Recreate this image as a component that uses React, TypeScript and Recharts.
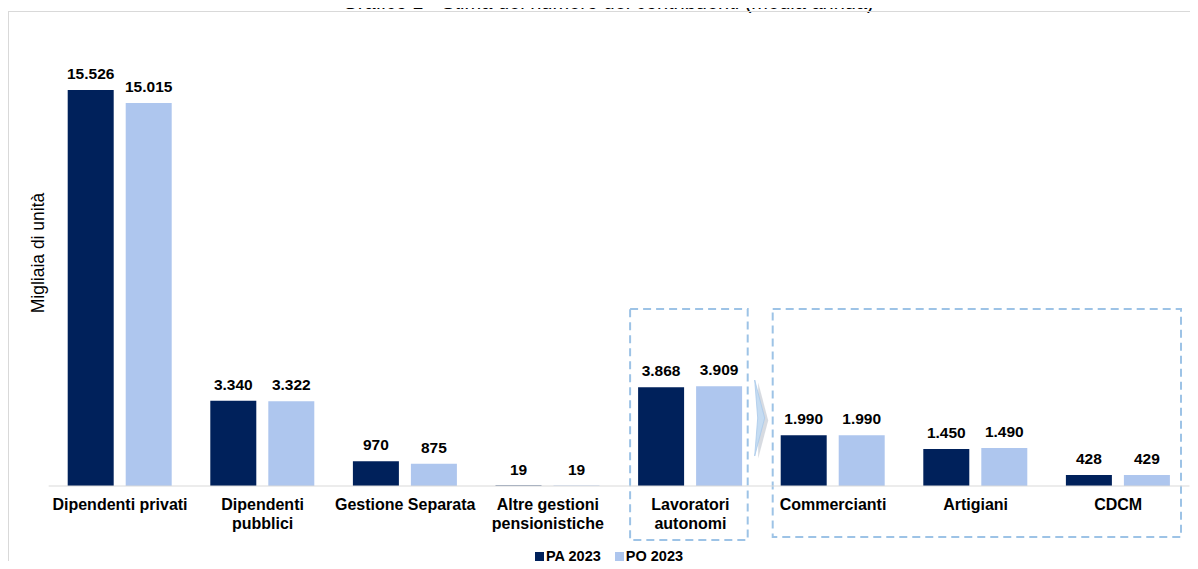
import { BarChart, Bar, XAxis, YAxis, LabelList, ReferenceArea } from "recharts";

const categories = [
  "Dipendenti privati",
  "Dipendenti pubblici",
  "Gestione Separata",
  "Altre gestioni pensionistiche",
  "Lavoratori autonomi",
  "Commercianti",
  "Artigiani",
  "CDCM",
];
const tickLines: Record<string, string[]> = {
  "Dipendenti privati": ["Dipendenti privati"],
  "Dipendenti pubblici": ["Dipendenti", "pubblici"],
  "Gestione Separata": ["Gestione Separata"],
  "Altre gestioni pensionistiche": ["Altre gestioni", "pensionistiche"],
  "Lavoratori autonomi": ["Lavoratori", "autonomi"],
  Commercianti: ["Commercianti"],
  Artigiani: ["Artigiani"],
  CDCM: ["CDCM"],
};
const pa2023 = [15526, 3340, 970, 19, 3868, 1990, 1450, 428];
const po2023 = [15015, 3322, 875, 19, 3909, 1990, 1490, 429];

const data = categories.map((name, i) => ({ name, pa: pa2023[i], po: po2023[i] }));

const FONT = '"Liberation Sans", Arial, sans-serif';
const NAVY = "#00215b";
const LIGHT = "#aec6ee";
const DASH = "#9dc3e6";

const fmt = (v: number) => String(v).replace(/\B(?=(\d{3})+(?!\d))/g, ".");

function CatTick({ x, y, payload }: any) {
  const lines = tickLines[payload.value] ?? [payload.value];
  return (
    <text x={x} y={y} textAnchor="middle" fontFamily={FONT} fontSize={16} fontWeight="bold" fill="#000">
      {lines.map((l, i) => (
        <tspan key={i} x={x} dy={i === 0 ? 16 : 18.5}>
          {l}
        </tspan>
      ))}
    </text>
  );
}

const dashedBox = (insetL: number, insetR: number, arrow: boolean) => (p: any) => (
  <g>
    <rect
      x={p.x + insetL}
      y={p.y}
      width={p.width - insetL - insetR}
      height={p.height}
      fill="none"
      stroke={DASH}
      strokeWidth={2}
      strokeDasharray="8 5"
    />
    {arrow && (
      <g>
        <polygon
          points={`${p.x - 5},${p.y + 72} ${p.x + 5},${p.y + 110} ${p.x - 5},${p.y + 148}`}
          fill="#b0b8c4"
          opacity={0.5}
          transform="translate(1.5,1.5)"
        />
        <polygon
          points={`${p.x - 7},${p.y + 71} ${p.x + 3},${p.y + 109} ${p.x - 7},${p.y + 147} ${p.x - 4},${p.y + 109}`}
          fill="#c5dcf2"
          stroke="#a9c9ea"
          strokeWidth={0.8}
        />
      </g>
    )}
  </g>
);

const labelStyle = { fontFamily: FONT, fontSize: 15.5, fontWeight: "bold", fill: "#000" };

export default function App() {
  return (
    <div style={{ position: "relative", width: 1198, height: 569, margin: -8, overflow: "hidden", background: "#fff" }}>
      <div
        style={{
          position: "absolute",
          left: 0,
          right: 0,
          top: -9.2,
          textAlign: "center",
          fontFamily: FONT,
          fontSize: 20,
          color: "#000",
          lineHeight: "22px",
          paddingLeft: 18,
          whiteSpace: "nowrap",
        }}
      >
        Grafico 1 - Stima del numero dei contribuenti (media annua)
      </div>
      <div
        style={{
          position: "absolute",
          left: 8,
          top: 11,
          width: 1300,
          height: 700,
          border: "1px solid #d9d9d9",
          boxSizing: "border-box",
        }}
      />
      <div style={{ position: "absolute", left: 0, top: 0 }}>
        <BarChart
          width={1198}
          height={569}
          data={data}
          margin={{ top: 78, right: 8.5, left: 48.7, bottom: 23 }}
          barSize={46}
          barGap={12}
        >
          <XAxis
            dataKey="name"
            height={60}
            interval={0}
            tickLine={false}
            axisLine={{ stroke: "#d9d9d9" }}
            tick={<CatTick />}
          />
          <YAxis hide domain={[0, 16000]} />
          <ReferenceArea
            x1="Lavoratori autonomi"
            x2="Lavoratori autonomi"
            y1={-2120}
            y2={6940}
            ifOverflow="visible"
            shape={dashedBox(11, 14, false)}
          />
          <ReferenceArea
            x1="Commercianti"
            x2="CDCM"
            y1={-2000}
            y2={6940}
            ifOverflow="visible"
            shape={dashedBox(11, 8.5, true)}
          />
          <Bar dataKey="pa" name="PA 2023" fill={NAVY} isAnimationActive={false}>
            <LabelList dataKey="pa" position="top" offset={11} formatter={(v: any) => fmt(Number(v))} style={labelStyle} />
          </Bar>
          <Bar dataKey="po" name="PO 2023" fill={LIGHT} isAnimationActive={false}>
            <LabelList dataKey="po" position="top" offset={11} formatter={(v: any) => fmt(Number(v))} style={labelStyle} />
          </Bar>
        </BarChart>
      </div>
      <div
        style={{
          position: "absolute",
          left: 38,
          top: 253,
          transform: "translate(-50%, -50%) rotate(-90deg)",
          fontFamily: FONT,
          fontSize: 17.5,
          whiteSpace: "nowrap",
          color: "#000",
        }}
      >
        Migliaia di unità
      </div>
      <div
        style={{
          position: "absolute",
          left: 535,
          top: 548,
          display: "flex",
          gap: 14,
          fontFamily: FONT,
          fontSize: 14.5,
          fontWeight: "bold",
          color: "#000",
        }}
      >
        {[
          { label: "PA 2023", color: NAVY },
          { label: "PO 2023", color: LIGHT },
        ].map((it) => (
          <span key={it.label} style={{ display: "flex", alignItems: "center", gap: 2 }}>
            <span style={{ width: 9, height: 9, background: it.color, display: "inline-block" }} />
            {it.label}
          </span>
        ))}
      </div>
    </div>
  );
}
